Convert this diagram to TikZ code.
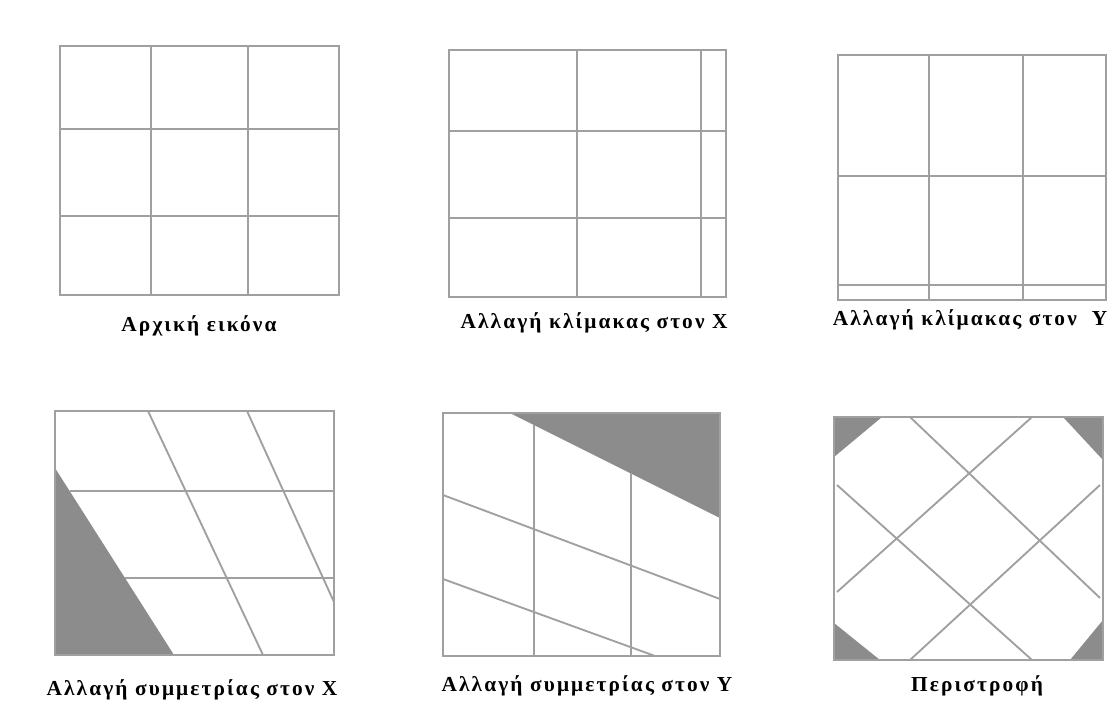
\documentclass[tikz,border=0pt]{standalone}
\usepackage{fontspec}
\newfontfamily\labfont[LetterSpace=10]{Liberation Serif}
\definecolor{linegray}{RGB}{160,160,160}
\definecolor{shadegray}{RGB}{140,140,140}
\begin{document}
\begin{tikzpicture}[x=0.75pt,y=-0.75pt,
  frame/.style={draw=linegray,line width=1.6pt},
  gline/.style={draw=linegray,line width=1.4pt},
  shade/.style={fill=shadegray,draw=none},
  lab/.style={font=\labfont\bfseries\fontsize{16}{18}\selectfont,inner sep=0pt,anchor=center}]
\useasboundingbox[fill=white] (0,0) rectangle (1110,710);
% Panel 1
\draw[gline] (151,46) -- (151,295);
\draw[gline] (248,46) -- (248,295);
\draw[gline] (60,129) -- (339,129);
\draw[gline] (60,216) -- (339,216);
\draw[frame] (60,46) rectangle (339,295);
\node[lab] (l1) at (199,326) {Αρχική εικόνα};
% Panel 2
\draw[gline] (577,50) -- (577,297);
\draw[gline] (701,50) -- (701,297);
\draw[gline] (449,131) -- (726,131);
\draw[gline] (449,218) -- (726,218);
\draw[frame] (449,50) rectangle (726,297);
\node[lab] (l2) at (594,323) {Αλλαγή κλίμακας στον X};
% Panel 3
\draw[gline] (929,55) -- (929,300);
\draw[gline] (1023,55) -- (1023,300);
\draw[gline] (838,176) -- (1106,176);
\draw[gline] (838,285) -- (1106,285);
\draw[frame] (838,55) rectangle (1106,300);
\node[lab] (l3) at (970,320) {Αλλαγή κλίμακας στον\ \ Y};
% Panel 4
\fill[shade] (55,468) -- (55,655) -- (174,655) -- cycle;
\draw[gline] (70,491) -- (334,491);
\draw[gline] (125,578) -- (334,578);
\draw[gline] (148,411) -- (263,655);
\draw[gline] (247,411) -- (334,602);
\draw[frame] (55,411) rectangle (334,655);
\node[lab] (l4) at (192,690) {Αλλαγή συμμετρίας στον X};
% Panel 5
\fill[shade] (510,413) -- (720,413) -- (720,518) -- cycle;
\draw[gline] (534,425) -- (534,656);
\draw[gline] (631,473) -- (631,656);
\draw[gline] (443,495) -- (720,599);
\draw[gline] (443,579) -- (655,656);
\draw[frame] (443,413) rectangle (720,656);
\node[lab] (l5) at (587,686) {Αλλαγή συμμετρίας στον Y};
% Panel 6
\fill[shade] (834,417) -- (882,417) -- (834,457) -- cycle;
\fill[shade] (1063,417) -- (1103,417) -- (1103,460) -- cycle;
\fill[shade] (834,623) -- (880,660) -- (834,660) -- cycle;
\fill[shade] (1070,660) -- (1103,620) -- (1103,660) -- cycle;
\draw[gline] (910,417) -- (1100,598);
\draw[gline] (837,485) -- (1032,660);
\draw[gline] (1032,417) -- (837,592);
\draw[gline] (1100,485) -- (910,660);
\draw[frame] (834,417) rectangle (1103,660);
\node[lab] (l6) at (977,686) {Περιστροφή};
\end{tikzpicture}
\end{document}
